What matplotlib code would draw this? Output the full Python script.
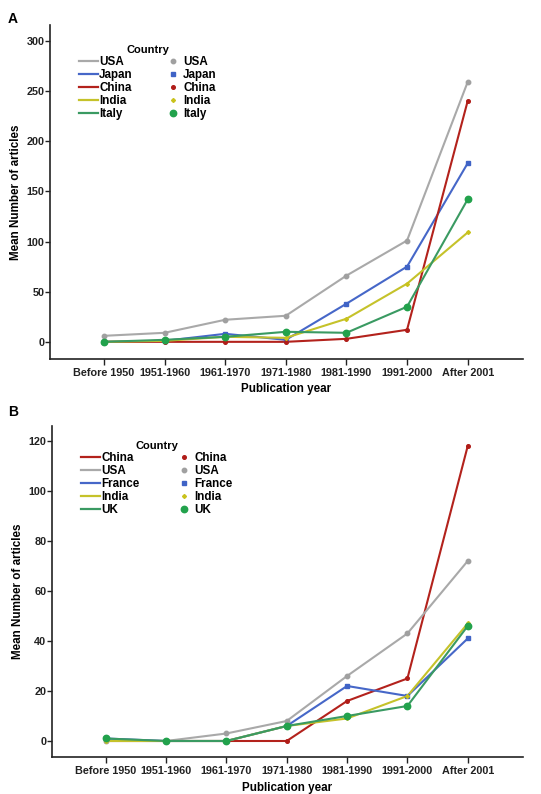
import matplotlib
matplotlib.use('Agg')
import matplotlib.pyplot as plt
from matplotlib.lines import Line2D

plt.rcParams['font.family'] = ['Liberation Sans', 'DejaVu Sans']
plt.rcParams['font.weight'] = 'bold'

periods = ['Before 1950', '1951-1960', '1961-1970', '1971-1980',
           '1981-1990', '1991-2000', 'After 2001']

# panel A
countries_a = ['USA', 'Japan', 'China', 'India', 'Italy']
usa_a = [6, 9, 22, 26, 66, 101, 259]
japan_a = [0, 1, 8, 2, 38, 75, 178]
china_a = [0, 0, 0, 0, 3, 12, 240]
india_a = [0, 1, 5, 4, 23, 58, 109]
italy_a = [0, 2, 5, 10, 9, 35, 142]
yticks_a = [0, 50, 100, 150, 200, 250, 300]

# panel B
countries_b = ['China', 'USA', 'France', 'India', 'UK']
china_b = [0, 0, 0, 0, 16, 25, 118]
usa_b = [0, 0, 3, 8, 26, 43, 72]
france_b = [1, 0, 0, 6, 22, 18, 41]
india_b = [0, 0, 0, 6, 9, 18, 47]
uk_b = [1, 0, 0, 6, 10, 14, 46]
yticks_b = [0, 20, 40, 60, 80, 100, 120]

GRAY = '#a9a9a9'
BLUE = '#4667c8'
RED = '#b3221c'
YELLOW = '#c5c22a'
GREEN = '#3a9a62'

# style per country: line colour, marker, marker size, marker colour
styles = {
    'USA': (GRAY, 'o', 3.2, '#a0a0a0'),
    'Japan': (BLUE, 's', 2.6, '#3f63c6'),
    'France': (BLUE, 's', 2.6, '#3f63c6'),
    'China': (RED, 'o', 2.6, '#b01c18'),
    'India': (YELLOW, 'D', 2.0, '#c9c21c'),
    'Italy': (GREEN, 'o', 4.6, '#22a24c'),
    'UK': (GREEN, 'o', 4.6, '#22a24c'),
}


def draw_panel(ax, names, series, yticks, ylim, leg_anchor, colspace):
    x = list(range(len(periods)))
    line_handles, marker_handles = [], []
    for name, vals in zip(names, series):
        lc, mk, ms, mc = styles[name]
        ax.plot(x, vals, color=lc, lw=1.5, zorder=2)
        ax.plot(x, vals, ls='none', marker=mk, ms=ms, color=mc,
                mec=mc, zorder=3)
        line_handles.append(Line2D([], [], color=lc, lw=1.6))
        marker_handles.append(Line2D([], [], ls='none', marker=mk, ms=ms,
                                     color=mc, mec=mc))

    ax.set_xlim(-0.89, 6.91)
    ax.set_ylim(*ylim)
    ax.set_xticks(x)
    ax.set_xticklabels(periods, fontsize=7.8, fontweight='bold')
    ax.set_yticks(yticks)
    ax.set_yticklabels([str(t) for t in yticks], fontsize=7.8,
                       fontweight='bold')
    for s in ('top', 'right'):
        ax.spines[s].set_visible(False)
    for s in ('left', 'bottom'):
        ax.spines[s].set_linewidth(1.2)
        ax.spines[s].set_color('#222222')
    ax.tick_params(axis='y', length=3.5, width=1, colors='#222222', pad=0.5)
    ax.tick_params(axis='x', length=4, width=1, colors='#222222', pad=2.5)
    ax.set_xlabel('Publication year', fontsize=8.4, fontweight='bold',
                  labelpad=4)
    ax.set_ylabel('Mean Number of articles', fontsize=8.4,
                  fontweight='bold', labelpad=3)

    leg = ax.legend(line_handles + marker_handles, names + names, ncol=2,
                    title='Country', frameon=False, loc='upper left',
                    bbox_to_anchor=leg_anchor, handlelength=1.6,
                    handletextpad=0.1, columnspacing=colspace,
                    labelspacing=0.08, prop={'size': 8.4, 'weight': 'bold'})
    leg.get_title().set_fontsize(8)
    leg.get_title().set_fontweight('bold')


fig = plt.figure(figsize=(5.41, 7.94), dpi=100, facecolor='white')

ax_a = fig.add_axes([0.0924, 0.548, 0.874, 0.4207])
draw_panel(ax_a, countries_a, [usa_a, japan_a, china_a, india_a, italy_a],
           yticks_a, (-17, 316), (0.04, 0.97), 2.6)

ax_b = fig.add_axes([0.0961, 0.0466, 0.870, 0.417])
draw_panel(ax_b, countries_b, [china_b, usa_b, france_b, india_b, uk_b],
           yticks_b, (-6.4, 126), (0.04, 0.985), 3.0)

fig.text(0.015, 0.985, 'A', fontsize=10, fontweight='bold', va='top')
fig.text(0.015, 0.49, 'B', fontsize=10, fontweight='bold', va='top')

plt.savefig('out.png', dpi=100)
